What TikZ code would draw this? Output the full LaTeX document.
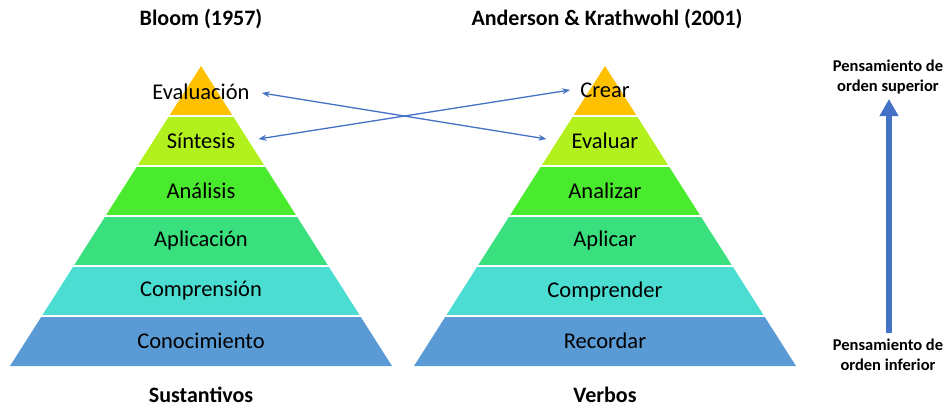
\documentclass[tikz,border=0pt]{standalone}
\usepackage{fontspec}
\setmainfont{Carlito}
\usetikzlibrary{arrows.meta,calc}
\definecolor{cZero}{HTML}{FFC000}
\definecolor{cOne}{HTML}{B2F01E}
\definecolor{cTwo}{HTML}{4AEB2E}
\definecolor{cThree}{HTML}{3BE07E}
\definecolor{cFour}{HTML}{4BDDD2}
\definecolor{cFive}{HTML}{5B9BD5}
\definecolor{arrblue}{HTML}{4472C4}
\tikzset{
  lay/.style={font=\fontsize{22.5}{26}\selectfont, inner sep=0pt, text=black},
  ttl/.style={font=\fontsize{22}{26}\selectfont\bfseries, inner sep=0pt},
  side/.style={font=\fontsize{16.5}{19.5}\selectfont\bfseries, align=center, inner sep=0pt},
  link/.style={draw=arrblue, line width=1.3pt, {Stealth[length=8pt,width=6pt]}-{Stealth[length=8pt,width=6pt]}},
  bigarrow/.style={draw=arrblue, line width=6pt, -{Triangle[length=17pt,width=18pt]}}
}
\begin{document}
\begin{tikzpicture}[x=1pt,y=-1pt]
\useasboundingbox (0,0) rectangle (950,409);
% pyramids
\foreach \cx in {201,605}{
  \foreach \k/\col in {0/cZero,1/cOne,2/cTwo,3/cThree,4/cFour,5/cFive}{
    \pgfmathsetmacro\yt{66+50*\k}
    \pgfmathsetmacro\yb{\yt+50}
    \pgfmathsetmacro\wt{0.636667*(\yt-66)}
    \pgfmathsetmacro\wb{0.636667*(\yb-66)}
    \fill[\col] (\cx-\wt,\yt) -- (\cx+\wt,\yt) -- (\cx+\wb,\yb) -- (\cx-\wb,\yb) -- cycle;
  }
  \foreach \k in {1,...,5}{
    \pgfmathsetmacro\yt{66+50*\k}
    \pgfmathsetmacro\wt{0.636667*(\yt-66)+2}
    \draw[white, line width=2pt] (\cx-\wt,\yt) -- (\cx+\wt,\yt);
  }
}
% left labels
\node[lay] (ev) at (201,92) {Evaluación};
\node[lay] (si) at (201,141) {Síntesis};
\node[lay] (an) at (201,191) {Análisis};
\node[lay] (ap) at (201,241) {Aplicación};
\node[lay] (co) at (201,291) {Comprensión};
\node[lay] (cn) at (201,341) {Conocimiento};
% right labels
\node[lay] (cr) at (605,90) {Crear};
\node[lay] (eva) at (605,141) {Evaluar};
\node[lay] (anz) at (605,191) {Analizar};
\node[lay] (apl) at (605,241) {Aplicar};
\node[lay] (com) at (605,291) {Comprender};
\node[lay] (rec) at (605,341) {Recordar};
% titles
\node[ttl] (tl) at (201,19) {Bloom (1957)};
\node[ttl] (tr) at (607,19) {Anderson \& Krathwohl (2001)};
\node[ttl] (bl) at (201,395) {Sustantivos};
\node[ttl] (br) at (605,395) {Verbos};
% side labels
\node[side] (sup) at (888,77) {Pensamiento de\\orden superior};
\node[side] (inf) at (888,355) {Pensamiento de\\orden inferior};
% links
\draw[link] ($(ev.east)+(12,1)$) -- ($(eva.west)+(-25,-2)$);
\draw[link] ($(si.east)+(23,-2)$) -- ($(cr.west)+(-10,0)$);
% big arrow
\coordinate (abot) at ($(inf.north)+(1,-6)$);
\coordinate (atop) at ($(sup.south)+(1,5)$);
\draw[bigarrow] (abot) -- (atop);
\end{tikzpicture}
\end{document}
